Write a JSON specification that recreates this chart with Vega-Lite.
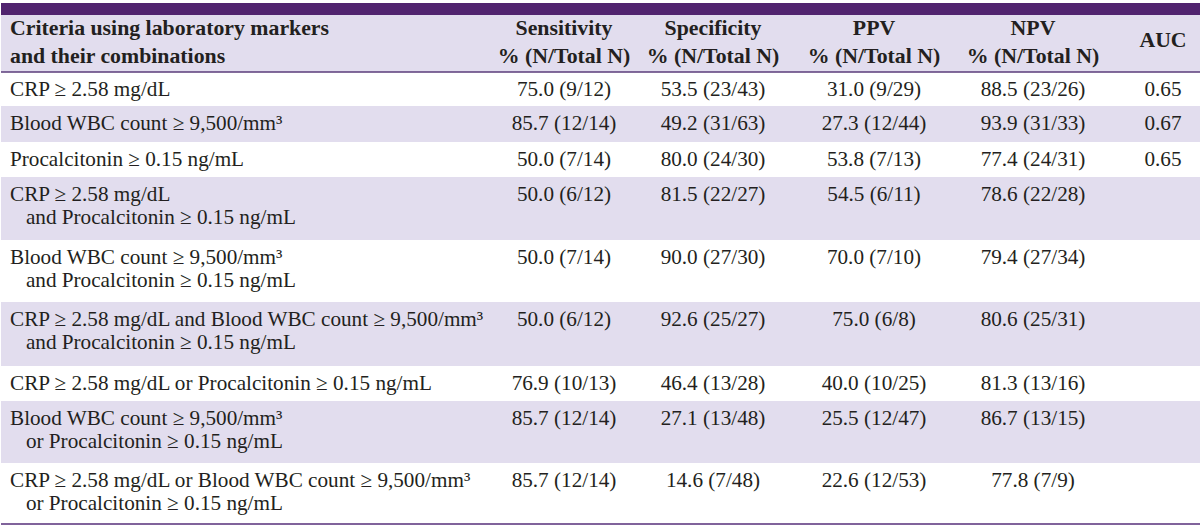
{
  "$schema": "https://vega.github.io/schema/vega-lite/v6.json",
  "width": 1200,
  "height": 532,
  "padding": 0,
  "autosize": {"type": "fit", "contains": "padding"},
  "background": "white",
  "config": {
    "view": {"stroke": null},
    "text": {"font": "Liberation Serif", "fontSize": 21.2, "color": "#231f20"}
  },
  "data": {
    "values": [
      {"row": 0, "col": 0, "text": "Criteria using laboratory markers\nand their combinations"},
      {"row": 0, "col": 1, "text": "Sensitivity\n% (N/Total N)"},
      {"row": 0, "col": 2, "text": "Specificity\n% (N/Total N)"},
      {"row": 0, "col": 3, "text": "PPV\n% (N/Total N)"},
      {"row": 0, "col": 4, "text": "NPV\n% (N/Total N)"},
      {"row": 0, "col": 5, "text": "AUC"},
      {"row": 1, "col": 0, "text": "CRP ≥ 2.58 mg/dL"},
      {"row": 1, "col": 1, "text": "75.0 (9/12)"},
      {"row": 1, "col": 2, "text": "53.5 (23/43)"},
      {"row": 1, "col": 3, "text": "31.0 (9/29)"},
      {"row": 1, "col": 4, "text": "88.5 (23/26)"},
      {"row": 1, "col": 5, "text": "0.65"},
      {"row": 2, "col": 0, "text": "Blood WBC count ≥ 9,500/mm³"},
      {"row": 2, "col": 1, "text": "85.7 (12/14)"},
      {"row": 2, "col": 2, "text": "49.2 (31/63)"},
      {"row": 2, "col": 3, "text": "27.3 (12/44)"},
      {"row": 2, "col": 4, "text": "93.9 (31/33)"},
      {"row": 2, "col": 5, "text": "0.67"},
      {"row": 3, "col": 0, "text": "Procalcitonin ≥ 0.15 ng/mL"},
      {"row": 3, "col": 1, "text": "50.0 (7/14)"},
      {"row": 3, "col": 2, "text": "80.0 (24/30)"},
      {"row": 3, "col": 3, "text": "53.8 (7/13)"},
      {"row": 3, "col": 4, "text": "77.4 (24/31)"},
      {"row": 3, "col": 5, "text": "0.65"},
      {"row": 4, "col": 0, "text": "CRP ≥ 2.58 mg/dL\n\u2060\u00a0\u00a0\u00a0and Procalcitonin ≥ 0.15 ng/mL"},
      {"row": 4, "col": 1, "text": "50.0 (6/12)"},
      {"row": 4, "col": 2, "text": "81.5 (22/27)"},
      {"row": 4, "col": 3, "text": "54.5 (6/11)"},
      {"row": 4, "col": 4, "text": "78.6 (22/28)"},
      {"row": 5, "col": 0, "text": "Blood WBC count ≥ 9,500/mm³\n\u2060\u00a0\u00a0\u00a0and Procalcitonin ≥ 0.15 ng/mL"},
      {"row": 5, "col": 1, "text": "50.0 (7/14)"},
      {"row": 5, "col": 2, "text": "90.0 (27/30)"},
      {"row": 5, "col": 3, "text": "70.0 (7/10)"},
      {"row": 5, "col": 4, "text": "79.4 (27/34)"},
      {"row": 6, "col": 0, "text": "CRP ≥ 2.58 mg/dL and Blood WBC count ≥ 9,500/mm³\n\u2060\u00a0\u00a0\u00a0and Procalcitonin ≥ 0.15 ng/mL"},
      {"row": 6, "col": 1, "text": "50.0 (6/12)"},
      {"row": 6, "col": 2, "text": "92.6 (25/27)"},
      {"row": 6, "col": 3, "text": "75.0 (6/8)"},
      {"row": 6, "col": 4, "text": "80.6 (25/31)"},
      {"row": 7, "col": 0, "text": "CRP ≥ 2.58 mg/dL or Procalcitonin ≥ 0.15 ng/mL"},
      {"row": 7, "col": 1, "text": "76.9 (10/13)"},
      {"row": 7, "col": 2, "text": "46.4 (13/28)"},
      {"row": 7, "col": 3, "text": "40.0 (10/25)"},
      {"row": 7, "col": 4, "text": "81.3 (13/16)"},
      {"row": 8, "col": 0, "text": "Blood WBC count ≥ 9,500/mm³\n\u2060\u00a0\u00a0\u00a0or Procalcitonin ≥ 0.15 ng/mL"},
      {"row": 8, "col": 1, "text": "85.7 (12/14)"},
      {"row": 8, "col": 2, "text": "27.1 (13/48)"},
      {"row": 8, "col": 3, "text": "25.5 (12/47)"},
      {"row": 8, "col": 4, "text": "86.7 (13/15)"},
      {"row": 9, "col": 0, "text": "CRP ≥ 2.58 mg/dL or Blood WBC count ≥ 9,500/mm³\n\u2060\u00a0\u00a0\u00a0or Procalcitonin ≥ 0.15 ng/mL"},
      {"row": 9, "col": 1, "text": "85.7 (12/14)"},
      {"row": 9, "col": 2, "text": "14.6 (7/48)"},
      {"row": 9, "col": 3, "text": "22.6 (12/53)"},
      {"row": 9, "col": 4, "text": "77.8 (7/9)"}
    ]
  },
  "encoding": {
    "x": {
      "field": "col", "type": "quantitative", "axis": null,
      "scale": {"domain": [-1, 0, 1, 2, 3, 4, 5, 6], "range": [0, 9, 563, 712, 873, 1032, 1162, 1200], "zero": false, "nice": false}
    },
    "y": {
      "field": "row", "type": "quantitative", "axis": null,
      "scale": {"domain": [-1, 0, 1, 2, 3, 4, 5, 6, 7, 8, 9, 10], "range": [3, 15, 72, 106, 142, 177, 240, 302, 366, 401, 463, 524], "zero": false, "nice": false}
    }
  },
  "layer": [
    {
      "transform": [
        {"filter": "datum.col == 0"},
        {"window": [{"op": "lead", "field": "row", "as": "next"}], "sort": [{"field": "row", "order": "ascending"}]},
        {"filter": "datum.row % 2 == 0"}
      ],
      "mark": {"type": "rect", "color": "#e2ddee"},
      "encoding": {
        "x": {"datum": -1},
        "x2": {"datum": 6},
        "y": {"field": "row", "type": "quantitative"},
        "y2": {"field": "next"}
      }
    },
    {
      "transform": [{"filter": "datum.row == 0 && datum.col == 0"}],
      "mark": {"type": "rect", "color": "#51246f"},
      "encoding": {
        "x": {"datum": -1},
        "x2": {"datum": 6},
        "y": {"datum": -1},
        "y2": {"datum": 0}
      }
    },
    {
      "transform": [{"filter": "datum.row == 0 && datum.col == 0"}],
      "mark": {"type": "rule", "color": "#5a3b7a", "strokeWidth": 1.5},
      "encoding": {
        "x": {"datum": -1},
        "x2": {"datum": 6},
        "y": {"datum": 1}
      }
    },
    {
      "transform": [{"filter": "datum.row == 0 && datum.col == 0"}],
      "mark": {"type": "rule", "color": "#80639b", "strokeWidth": 2},
      "encoding": {
        "x": {"datum": -1},
        "x2": {"datum": 6},
        "y": {"datum": 10}
      }
    },
    {
      "transform": [{"filter": "datum.row == 0 && datum.col == 0"}],
      "mark": {"type": "text", "align": "left", "baseline": "alphabetic", "dy": 20, "fontWeight": "bold", "fontSize": 21.8, "lineBreak": "\n", "lineHeight": 28},
      "encoding": {"text": {"field": "text", "type": "nominal"}}
    },
    {
      "transform": [{"filter": "datum.row == 0 && datum.col > 0 && datum.col < 5"}],
      "mark": {"type": "text", "align": "center", "baseline": "alphabetic", "dy": 20, "fontWeight": "bold", "fontSize": 21.8, "lineBreak": "\n", "lineHeight": 28},
      "encoding": {"text": {"field": "text", "type": "nominal"}}
    },
    {
      "transform": [{"filter": "datum.row == 0 && datum.col == 5"}],
      "mark": {"type": "text", "align": "center", "baseline": "alphabetic", "dy": 32, "fontWeight": "bold", "fontSize": 21.8},
      "encoding": {"text": {"field": "text", "type": "nominal"}}
    },
    {
      "transform": [{"filter": "datum.row > 0 && datum.col == 0"}],
      "mark": {"type": "text", "align": "left", "baseline": "alphabetic", "dy": 24, "lineBreak": "\n", "lineHeight": 22.5},
      "encoding": {"text": {"field": "text", "type": "nominal"}}
    },
    {
      "transform": [{"filter": "datum.row > 0 && datum.col > 0"}],
      "mark": {"type": "text", "align": "center", "baseline": "alphabetic", "dy": 24},
      "encoding": {"text": {"field": "text", "type": "nominal"}}
    }
  ]
}
